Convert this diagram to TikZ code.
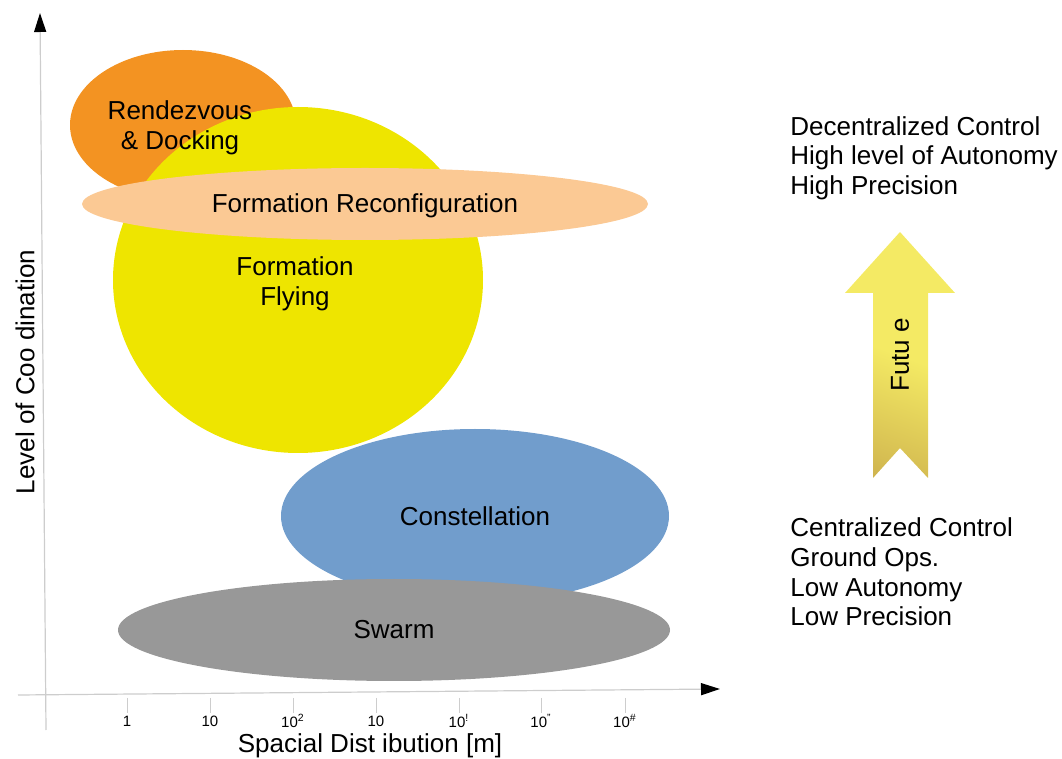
\documentclass[tikz,border=0pt]{standalone}
\usepackage{fontspec}
\setmainfont{Liberation Sans}
\usetikzlibrary{arrows.meta,shapes.geometric}
\definecolor{rdvorange}{RGB}{243,147,34}
\definecolor{flyyellow}{RGB}{238,229,0}
\definecolor{reconfpeach}{RGB}{251,201,148}
\definecolor{constblue}{RGB}{113,157,204}
\definecolor{swarmgray}{RGB}{152,152,152}
\definecolor{axisgray}{RGB}{205,205,205}
\definecolor{futyellow}{RGB}{244,234,100}
\definecolor{futbrown}{RGB}{176,134,60}
\pgfdeclareverticalshading{futshade}{100bp}{color(0bp)=(futbrown); color(25bp)=(futbrown!45!futyellow); color(50bp)=(futyellow); color(100bp)=(futyellow)}
\tikzset{
  blob/.style={ellipse,inner sep=0pt,align=center,font=\fontsize{13}{14.8}\selectfont},
  blobtext/.style={align=center,inner sep=0pt,font=\fontsize{13}{14.8}\selectfont},
  axisline/.style={draw=axisgray,line width=0.6pt},
  axisarr/.style={axisline,-{Triangle[length=9.5pt,width=6pt,color=black]}},
  tickmark/.style={draw=axisgray,line width=0.5pt},
  ticklbl/.style={font=\fontsize{7.5}{9}\selectfont,inner sep=0pt},
  axislbl/.style={font=\fontsize{13}{14.8}\selectfont,inner sep=0pt},
  note/.style={anchor=west,align=left,inner sep=0pt,font=\fontsize{13}{14.8}\selectfont},
  futarrow/.style={shading=futshade,shading angle=-20},
}

\begin{document}
\begin{tikzpicture}[x=0.5pt,y=-0.5pt]
  \useasboundingbox (0,0) rectangle (1062,759);
  \node[blob,fill=rdvorange,minimum width=113pt,minimum height=75pt] (rdv) at (183,125) {};
  \node[blob,fill=flyyellow,minimum width=185pt,minimum height=173pt] (fly) at (298,280) {};
  \node[blobtext] (rdvtext) at (180,128) {Rendezvous\\\& Docking};
  \node[blobtext] (flytext) at (295,284) {Formation\\Flying};
  \node[blob,fill=reconfpeach,minimum width=283pt,minimum height=36pt] (reconf) at (365,204) {};
  \node[blobtext] (reconftext) at (365,206) {Formation Reconfiguration};
  \node[blob,fill=constblue,minimum width=194pt,minimum height=87pt] (const) at (475,516) {Constellation};
  \node[blob,fill=swarmgray,minimum width=276pt,minimum height=51pt] (swarm) at (394,630) {Swarm};

  \coordinate (ybot) at (46,730);
  \coordinate (ytop) at (40,13);
  \coordinate (xbeg) at (18,695);
  \coordinate (xend) at (720,689);
  \draw[axisarr] (ybot) -- (ytop);
  \draw[axisarr] (xbeg) -- (xend);
  \foreach \x/\lbl [count=\i] in {127/1,210/10,293/10\textsuperscript{2},376/10,
      459/10\textsuperscript{!},541/10\textsuperscript{"},625/10\textsuperscript{\#}}{
    \coordinate (ta\i) at (\x,698);
    \coordinate (tb\i) at (\x,713);
    \draw[tickmark] (ta\i) -- (tb\i);
    \node[ticklbl] (tl\i) at (\x,721) {\lbl};
  }
  \node[axislbl] (xlabel) at (370,746) {Spacial Dist ibution [m]};
  \node[axislbl,rotate=90] (ylabel) at (25,372) {Level of Coo dination};

  \path[futarrow] (873,478) -- (873,293) -- (845,293) -- (900,232) -- (955,293)
    -- (928,293) -- (928,478) -- (900,448) -- cycle;
  \node[axislbl,rotate=90] (future) at (900,355) {Futu e};

  \node[note] (hiside) at (790,158) {Decentralized Control\\High level of Autonomy\\High Precision};
  \node[note] (loside) at (790,572) {Centralized Control\\Ground Ops.\\Low Autonomy\\Low Precision};
\end{tikzpicture}
\end{document}
